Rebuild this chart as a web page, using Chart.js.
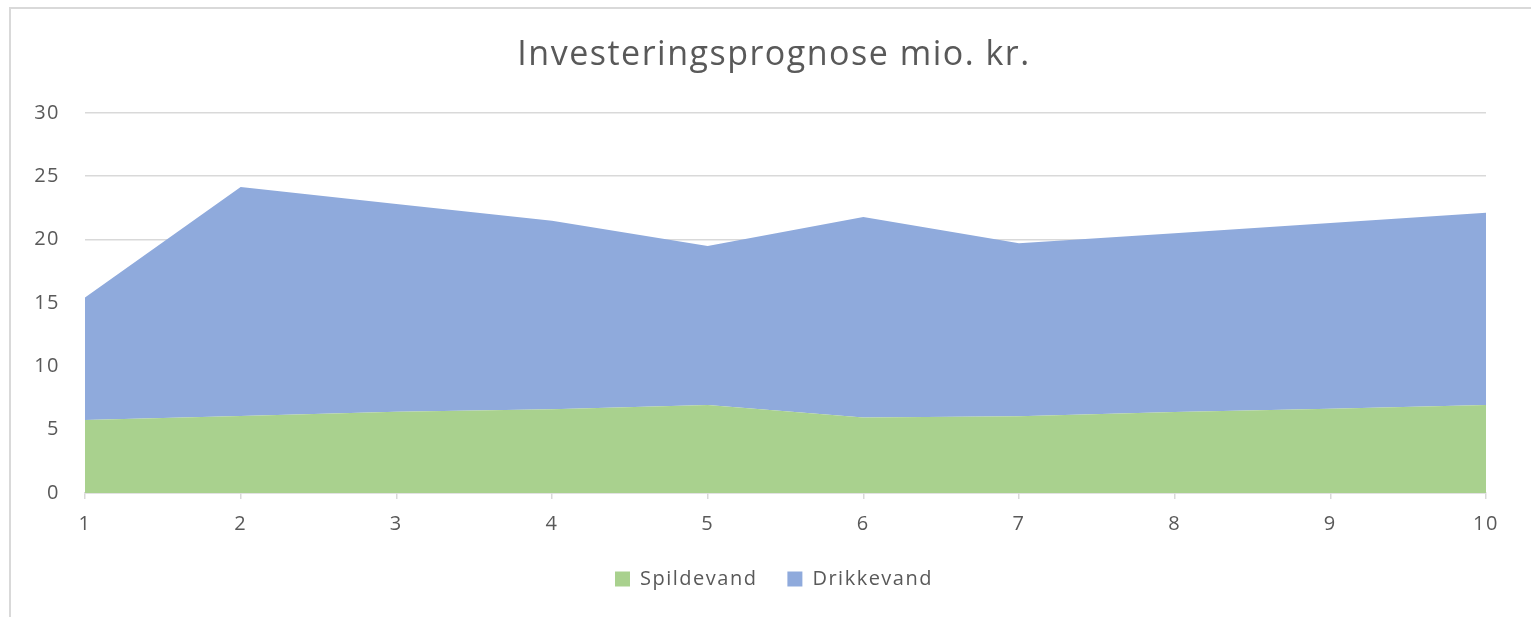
<!DOCTYPE html>
<html>
<head>
<meta charset="utf-8">
<script src="https://cdn.jsdelivr.net/npm/chart.js@4/dist/chart.umd.min.js"></script>
<style>
  html, body { margin: 0; padding: 0; background: #ffffff; }
  #wrap { position: relative; width: 1531px; height: 617px; overflow: hidden; }
  #frame { position: absolute; left: 9px; top: 7px; width: 1540px; height: 640px;
           border-top: 2px solid #D9D9D9; border-left: 2px solid #D9D9D9; box-sizing: border-box; }
  #c { position: absolute; left: 0; top: 0; }
</style>
</head>
<body>
<div id="wrap">
  <div id="frame"></div>
  <canvas id="c" width="1531" height="617"></canvas>
</div>
<script>
const title = 'Investeringsprognose mio. kr.';
const categories = ['1', '2', '3', '4', '5', '6', '7', '8', '9', '10'];
const spildevand = [5.76, 6.08, 6.42, 6.6, 6.95, 5.95, 6.06, 6.4, 6.65, 6.95];
const drikkevand = [9.66, 18.06, 16.38, 14.89, 12.53, 15.83, 13.64, 14.1, 14.65, 15.17];
const yTicks = [0, 5, 10, 15, 20, 25, 30];

const FONT = "'Open Sans', 'Noto Sans', sans-serif";
const TXT = '#595959';

const spacing = {
  id: 'spacing',
  beforeUpdate(chart) { chart.ctx.letterSpacing = '1.5px'; },
  beforeDraw(chart) { chart.ctx.letterSpacing = '1.5px'; },
  afterLayout(chart) {
    const shift = 31;
    if (chart.titleBlock) { chart.titleBlock.left += shift; chart.titleBlock.right += shift; }
    if (chart.legend) { chart.legend.left += shift; chart.legend.right += shift; }
  }
};

new Chart(document.getElementById('c'), {
  type: 'line',
  data: {
    labels: categories,
    datasets: [
      { label: 'Spildevand', data: spildevand, backgroundColor: '#A9D18E', borderWidth: 0,
        pointRadius: 0, fill: 'origin', tension: 0 },
      { label: 'Drikkevand', data: drikkevand, backgroundColor: '#8FAADC', borderWidth: 0,
        pointRadius: 0, fill: '-1', tension: 0 }
    ]
  },
  plugins: [spacing],
  options: {
    responsive: false,
    animation: false,
    layout: { padding: { left: 0, right: 45, top: 0, bottom: 18 } },
    plugins: {
      title: { display: true, text: title, color: TXT,
               font: { family: FONT, size: 34, weight: 'normal', lineHeight: 1.2 },
               padding: { top: 35, bottom: 37 } },
      legend: { position: 'bottom',
                labels: { color: TXT, font: { family: FONT, size: 20 }, boxWidth: 15, boxHeight: 15,
                          padding: 30 } },
      tooltip: { enabled: false }
    },
    scales: {
      x: {
        type: 'category', offset: false,
        grid: { drawOnChartArea: false, drawTicks: true, tickLength: 6, color: '#D9D9D9', lineWidth: 1.5 },
        border: { display: true, color: '#D9D9D9', width: 1.5 },
        ticks: { color: TXT, font: { family: FONT, size: 20 }, padding: 13, maxRotation: 0 },
        afterFit: (s) => { s.height = 46; }
      },
      y: {
        stacked: true, min: 0, max: 30,
        afterBuildTicks: (s) => { s.ticks = yTicks.map(v => ({ value: v })); },
        grid: { color: '#D9D9D9', lineWidth: 1.5, drawTicks: false },
        border: { display: false },
        ticks: { color: TXT, font: { family: FONT, size: 20 }, padding: 25 },
        afterFit: (s) => { s.width = 85; }
      }
    }
  }
});
</script>
</body>
</html>
